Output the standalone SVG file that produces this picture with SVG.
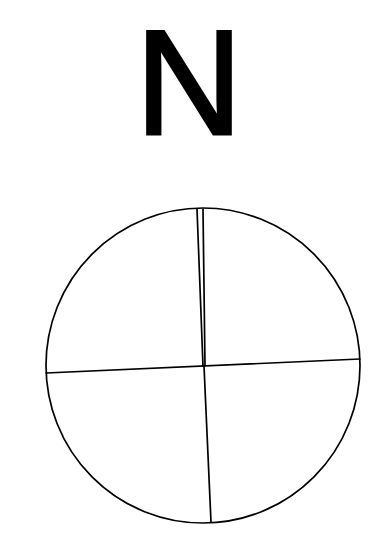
<svg xmlns="http://www.w3.org/2000/svg" width="390" height="543" viewBox="0 0 390 543">
<style>
.ln{fill:none;stroke:#000;stroke-width:1.7;stroke-linecap:round}
.lbl{font-family:"Liberation Sans",Arial,sans-serif;font-size:148px;fill:#000;stroke:#000;stroke-width:3}
</style>
<rect width="390" height="543" fill="#fff"/>
<text class="lbl" x="189" y="134" text-anchor="middle">N</text>
<g id="compass">
<ellipse class="ln" cx="203" cy="365.5" rx="157" ry="157.5"/>
<line class="ln" x1="197" y1="209" x2="203" y2="366"/>
<line class="ln" x1="203" y1="209" x2="205" y2="366"/>
<line class="ln" x1="204" y1="366" x2="211" y2="522"/>
<line class="ln" x1="46" y1="373" x2="360" y2="359"/>
</g>
</svg>
